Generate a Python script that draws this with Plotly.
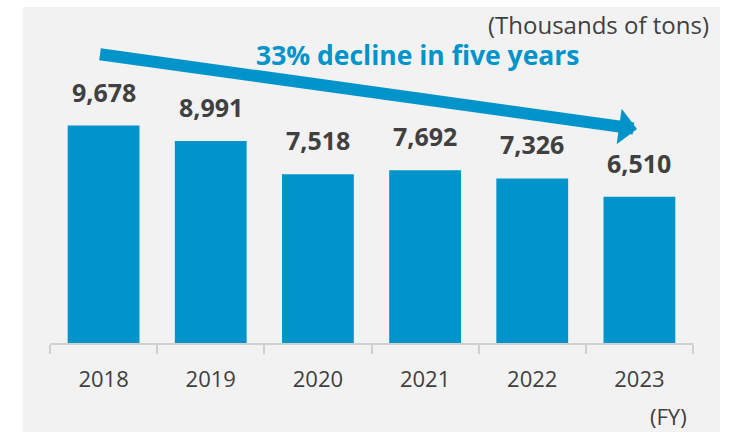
import plotly.graph_objects as go

# Annual volume, thousands of tons
years = ["2018", "2019", "2020", "2021", "2022", "2023"]
volumes = [9678, 8991, 7518, 7692, 7326, 6510]

W, H = 731, 433
M_L, M_R, M_T, M_B = 50, 38, 40, 90
PLOT_W = W - M_L - M_R
PLOT_H = H - M_T - M_B
Y_MAX = 13490

BLUE = "#0094CA"
DARK = "#404040"
PANEL = "#F2F2F2"
FONT = "Open Sans"


def px_x(px):
    """Pixel column -> paper x."""
    return (px - M_L) / PLOT_W


def px_y(py):
    """Pixel row -> paper y."""
    return (H - M_B - py) / PLOT_H


fig = go.Figure(
    go.Bar(
        x=years,
        y=volumes,
        marker=dict(color=BLUE, line=dict(width=0)),
        hoverinfo="skip",
    )
)

# value labels above each bar (category axis positions are indices)
for i, v in enumerate(volumes):
    fig.add_annotation(
        x=i, y=v, xref="x", yref="y",
        text=f"<b>{v:,}</b>",
        showarrow=False, yanchor="bottom", yshift=15,
        font=dict(family=FONT, size=25, color=DARK),
    )

# trend arrow sloping down from above the first bar to above the last one
tip = (637, 129)
tail = (98.5, 54)
fig.add_annotation(
    x=px_x(tip[0]), y=px_y(tip[1]), xref="paper", yref="paper",
    ax=tail[0] - tip[0], ay=tail[1] - tip[1], axref="pixel", ayref="pixel",
    text="", showarrow=True,
    arrowhead=1, arrowsize=0.5, arrowwidth=12, arrowcolor=BLUE,
    standoff=0, startstandoff=0,
)

fig.add_annotation(
    x=px_x(417.5), y=px_y(55), xref="paper", yref="paper",
    text="<b>33% decline in five years</b>", showarrow=False,
    xanchor="center", yanchor="middle",
    font=dict(family=FONT, size=26.5, color=BLUE),
)

fig.add_annotation(
    x=px_x(711), y=px_y(24), xref="paper", yref="paper",
    text="(Thousands of tons)", showarrow=False,
    xanchor="right", yanchor="middle",
    font=dict(family=FONT, size=24, color=DARK),
)

fig.add_annotation(
    x=px_x(689), y=px_y(416), xref="paper", yref="paper",
    text="(FY)", showarrow=False,
    xanchor="right", yanchor="middle",
    font=dict(family=FONT, size=22, color=DARK),
)

# light grey panel behind the chart
fig.add_shape(
    type="rect", xref="paper", yref="paper",
    x0=px_x(23), x1=px_x(720), y0=px_y(432), y1=px_y(7),
    fillcolor=PANEL, line=dict(width=0), layer="below",
)

fig.update_layout(
    width=W, height=H,
    margin=dict(l=M_L, r=M_R, t=M_T, b=M_B),
    paper_bgcolor="white",
    plot_bgcolor=PANEL,
    bargap=0.33,
    showlegend=False,
    font=dict(family=FONT, color=DARK),
    xaxis=dict(
        type="category",
        range=[-0.5, len(years) - 0.5],
        autorange=False,
        tickson="boundaries",
        ticks="outside", ticklen=9, tickwidth=1.5, tickcolor="#D0D0D0",
        showline=True, linecolor="#D0D0D0", linewidth=1.5,
        showgrid=False, zeroline=False,
        tickangle=0,
        tickfont=dict(family=FONT, size=22, color=DARK),
        ticklabelstandoff=16,
        fixedrange=True,
    ),
    yaxis=dict(
        range=[0, Y_MAX], visible=False, showgrid=False, fixedrange=True,
    ),
)

fig.write_html("out.html")
